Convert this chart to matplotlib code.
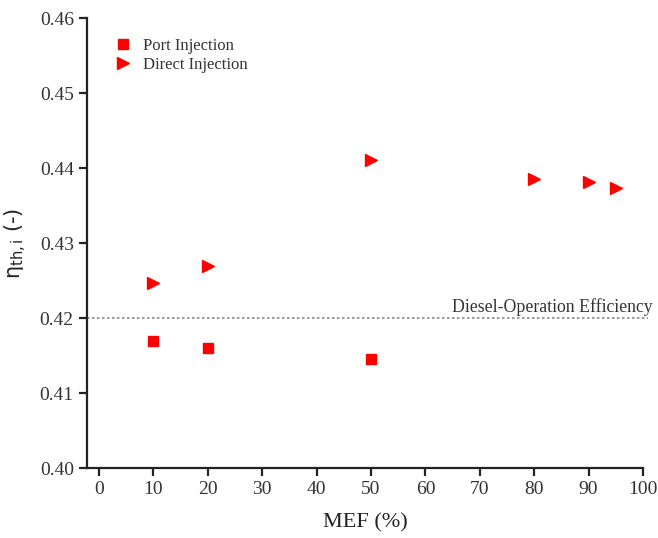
import matplotlib
matplotlib.use("Agg")
import matplotlib.pyplot as plt

# MEF (%) and indicated thermal efficiency (-)
port_mef = [10, 20, 50]
port_eta = [0.4169, 0.4160, 0.4145]
direct_mef = [10, 20, 50, 80, 90, 95]
direct_eta = [0.4247, 0.4269, 0.4411, 0.4386, 0.4381, 0.4374]
diesel_eta = 0.42

RED = "#ff0000"
TXT = "#333333"

plt.rcParams["font.family"] = ["Liberation Serif", "DejaVu Serif"]

fig = plt.figure(figsize=(6.58, 5.38), dpi=100)
ax = fig.add_axes([0.1322, 0.1301, 0.8450, 0.8364])

ax.plot(port_mef, port_eta, "s", color=RED, markersize=7, label="Port Injection")
ax.plot(direct_mef, direct_eta, ">", color=RED, markersize=9, label="Direct Injection")

ax.plot([-2.2, 101], [diesel_eta, diesel_eta], linestyle=(0, (1.5, 1.5)),
        color="#888888", linewidth=1.2, clip_on=False)
ax.text(101.8, diesel_eta + 0.0003, "Diesel-Operation Efficiency",
        ha="right", va="bottom", fontsize=12.8, color=TXT)

ax.set_xlim(-2.2, 100)
ax.set_ylim(0.40, 0.46)
ax.set_xticks(range(0, 101, 10))
ax.set_yticks([0.40, 0.41, 0.42, 0.43, 0.44, 0.45, 0.46])
ax.set_yticklabels(["0.40", "0.41", "0.42", "0.43", "0.44", "0.45", "0.46"])

for s in ["top", "right"]:
    ax.spines[s].set_visible(False)
for s in ["left", "bottom"]:
    ax.spines[s].set_linewidth(1.6)
    ax.spines[s].set_color("#222222")
ax.tick_params(direction="out", length=6, width=1.6, color="#222222",
               labelsize=14, labelcolor=TXT)

ax.set_xlabel("MEF (%)", fontsize=16, color="#222222", labelpad=11)
ax.set_ylabel(r"$\mathregular{\eta_{th,i}}$ (-)", fontsize=15, color="#222222",
              family="DejaVu Sans", labelpad=8)

ax.legend(loc="upper left", bbox_to_anchor=(0.02, 0.99), frameon=False,
          fontsize=12, handletextpad=0.6, labelspacing=0.2,
          handlelength=1.2, labelcolor=TXT)

fig.savefig("out.png", dpi=100)
